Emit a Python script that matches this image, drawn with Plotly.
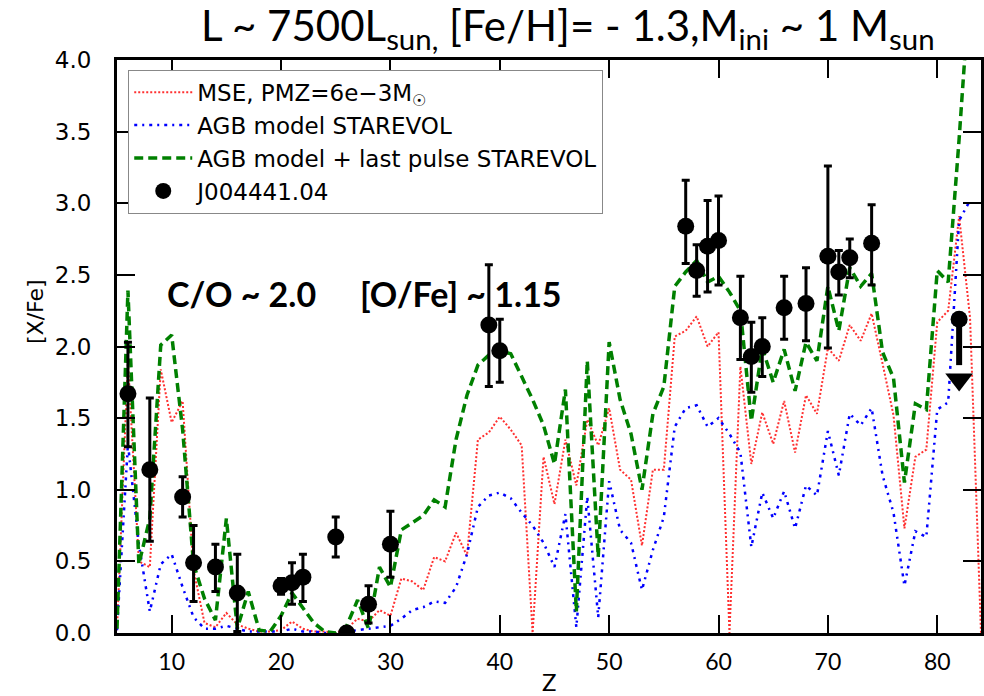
import plotly.graph_objects as go

# ---------------- data ----------------
model_z = list(range(5, 85))

mse_red = [0.02, 1.90, 0.50, 0.46, 1.84, 1.47, 1.62, 0.44, 0.07, 0.04,
           0.14, 0.06, 0.03, 0.01, 0.01, 0.02, 0.08, 0.03, 0.01, 0.01,
           0.00, 0.03, 0.10, 0.08, 0.16, 0.12, 0.38, 0.36, 0.30, 0.53,
           0.50, 0.70, 0.54, 1.35, 1.40, 1.51, 1.42, 1.31, 0.00, 1.23,
           0.90, 1.35, 1.03, 1.49, 1.31, 1.57, 1.14, 1.07, 0.61, 1.14,
           1.14, 2.07, 2.11, 2.21, 2.00, 2.10, 0.00, 1.86, 1.18, 1.54,
           1.32, 1.62, 1.26, 1.66, 1.53, 1.99, 1.90, 2.15, 2.04, 2.23,
           1.88, 1.52, 0.73, 1.23, 1.28, 2.17, 2.25, 2.91, 2.20, 0.00]

agb_blue = [0.02, 1.32, 0.62, 0.15, 0.48, 0.55, 0.32, 0.11, 0.03, 0.03,
            0.05, 0.03, 0.01, 0.01, 0.01, 0.01, 0.03, 0.01, 0.01, 0.00,
            0.00, 0.01, 0.02, 0.03, 0.04, 0.05, 0.10, 0.16, 0.18, 0.22,
            0.21, 0.32, 0.55, 0.88, 0.96, 0.98, 0.94, 0.84, 0.75, 0.63,
            0.46, 0.83, 0.04, 0.95, 0.11, 1.06, 0.72, 0.63, 0.30, 0.58,
            0.81, 1.44, 1.57, 1.59, 1.44, 1.50, 1.39, 1.26, 0.60, 0.98,
            0.80, 0.99, 0.73, 1.03, 0.96, 1.41, 1.10, 1.53, 1.45, 1.57,
            1.10, 0.84, 0.33, 0.71, 0.67, 1.56, 1.61, 2.88, 3.02, None]

agb_pulse_green = [0.03, 2.39, 0.48, 0.80, 2.01, 2.08, 1.42, 0.48, 0.24, 0.09,
                   0.80, 0.03, 0.29, 0.02, 0.01, 0.12, 0.28, 0.18, 0.07, 0.01,
                   0.00, 0.05, 0.23, 0.03, 0.46, 0.32, 0.72, 0.77, 0.82, 0.93,
                   0.88, 1.35, 1.66, 1.87, 1.94, 1.97, 1.95, 1.79, 1.63, 1.45,
                   1.18, 1.70, 0.15, 1.90, 0.53, 2.03, 1.63, 1.39, 1.00, 1.53,
                   1.72, 2.42, 2.52, 2.60, 2.45, 2.49, 2.38, 2.25, 1.48, 1.99,
                   1.75, 1.98, 1.69, 2.03, 1.90, 2.42, 2.11, 2.55, 2.42, 2.51,
                   1.96, 1.78, 1.05, 1.60, 1.56, 2.53, 2.45, 3.45, 4.55, None]

obs_z = [6, 8, 11, 12, 14, 16, 20, 21, 22, 25, 26, 28, 30, 39, 40,
         57, 58, 59, 60, 62, 63, 64, 66, 68, 70, 71, 72, 74]
obs_val = [1.67, 1.14, 0.95, 0.49, 0.46, 0.28, 0.33, 0.35, 0.39, 0.67, 0.00, 0.20, 0.62, 2.15, 1.97,
           2.84, 2.53, 2.70, 2.74, 2.20, 1.93, 2.00, 2.27, 2.30, 2.63, 2.52, 2.62, 2.72]
obs_err_up = [0.36, 0.50, 0.14, 0.26, 0.16, 0.27, 0.05, 0.14, 0.16, 0.14, 0.00, 0.13, 0.23, 0.42, 0.22,
              0.32, 0.18, 0.32, 0.31, 0.29, 0.24, 0.20, 0.22, 0.25, 0.63, 0.15, 0.13, 0.27]
obs_err_dn = [0.37, 0.50, 0.14, 0.27, 0.17, 0.27, 0.06, 0.15, 0.17, 0.14, 0.00, 0.13, 0.23, 0.43, 0.22,
              0.26, 0.18, 0.32, 0.31, 0.29, 0.25, 0.21, 0.22, 0.26, 0.64, 0.16, 0.14, 0.29]

limit_z = [82]
limit_val = [2.19]

x_ticks = [10, 20, 30, 40, 50, 60, 70, 80]
y_ticks = [0.0, 0.5, 1.0, 1.5, 2.0, 2.5, 3.0, 3.5, 4.0]

# ---------------- figure ----------------
ARROW_LEN = 0.42
L, R, T, B = 117, 3, 60, 63
W, H = 984, 696
PW, PH = W - L - R, H - T - B

fig = go.Figure()

fig.add_trace(go.Scatter(
    x=model_z, y=mse_red, mode="lines", name="MSE, PMZ=6e\u22123M<sub>\u2609</sub>",
    line=dict(color="#ff3030", width=2, dash="2px,2px")))
fig.add_trace(go.Scatter(
    x=model_z, y=agb_blue, mode="lines", name="AGB model STAREVOL",
    line=dict(color="#0000ff", width=2.5, dash="3px,5px,2px,5px")))
fig.add_trace(go.Scatter(
    x=model_z, y=agb_pulse_green, mode="lines", name="AGB model + last pulse STAREVOL",
    line=dict(color="#008000", width=3.5, dash="9px,5px")))

fig.add_trace(go.Scatter(
    x=obs_z, y=obs_val, mode="markers", name="J004441.04",
    marker=dict(color="black", size=17, symbol="circle"),
    error_y=dict(type="data", symmetric=False, array=obs_err_up, arrayminus=obs_err_dn,
                 color="black", thickness=3, width=4)))

# upper limit (Pb)
for zz, vv in zip(limit_z, limit_val):
    fig.add_trace(go.Scatter(
        x=[zz, zz], y=[vv, vv - ARROW_LEN + 0.1], mode="lines",
        line=dict(color="black", width=6), showlegend=False))
    fig.add_trace(go.Scatter(
        x=[zz], y=[vv - ARROW_LEN], mode="markers",
        marker=dict(color="black", size=24, symbol="triangle-down"), showlegend=False))
fig.add_trace(go.Scatter(
    x=limit_z, y=limit_val, mode="markers",
    marker=dict(color="black", size=17, symbol="circle"), showlegend=False))

x0, x1 = 5, 84


def px_x(p):
    return x0 + (p - L) / PW * (x1 - x0)


fig.update_layout(
    width=W, height=H,
    margin=dict(l=L, r=R, t=T, b=B, autoexpand=False),
    paper_bgcolor="white", plot_bgcolor="white",
    showlegend=True,
    legend=dict(x=0.013, y=0.983, xanchor="left", yanchor="top",
                bgcolor="white", bordercolor="#888888", borderwidth=1,
                font=dict(family="DejaVu Sans", size=23, color="black"),
                itemwidth=58, tracegroupgap=0),
    title=dict(text="L ~ 7500L<sub>sun,</sub> [Fe/H]= - 1.3,M<sub>ini</sub> ~ 1 M<sub>sun</sub>",
               x=0.577, xanchor="center", y=0.962, yanchor="middle",
               font=dict(family="Lato", size=42, color="black")),
    annotations=[
        dict(text="<b>C/O ~ 2.0</b>", x=px_x(241), y=2.37, xref="x", yref="y",
             showarrow=False, font=dict(family="Lato", size=34, color="black")),
        dict(text="<b>[O/Fe] ~ 1.15</b>", x=px_x(461), y=2.37, xref="x", yref="y",
             showarrow=False, font=dict(family="Lato", size=34, color="black")),
        dict(text="Z", x=0.5, y=-(681 - (H - B)) / PH, xref="paper", yref="paper",
             xanchor="center", yanchor="middle", showarrow=False,
             font=dict(family="Lato", size=24, color="black")),
        dict(text="[X/Fe]", x=-(L - 35) / PW, y=(H - B - 312) / PH, xref="paper", yref="paper",
             xanchor="center", yanchor="middle", textangle=-90, showarrow=False,
             font=dict(family="DejaVu Sans", size=22, color="black")),
    ],
)

fig.update_xaxes(range=[x0, x1], tickvals=x_ticks, ticks="inside", ticklen=18, tickwidth=2,
                 tickcolor="black", showline=True, linewidth=3, linecolor="black", mirror="ticks",
                 showgrid=False, zeroline=False, automargin=False,
                 tickfont=dict(family="Lato", size=23, color="black"), ticklabelstandoff=6)
fig.update_yaxes(range=[0, 4], tickvals=y_ticks, tickformat=".1f", ticks="inside", ticklen=18, tickwidth=2,
                 tickcolor="black", showline=True, linewidth=3, linecolor="black", mirror="ticks",
                 showgrid=False, zeroline=False, automargin=False,
                 tickfont=dict(family="DejaVu Sans", size=23, color="black"), ticklabelstandoff=18)

fig.write_html("out.html")
